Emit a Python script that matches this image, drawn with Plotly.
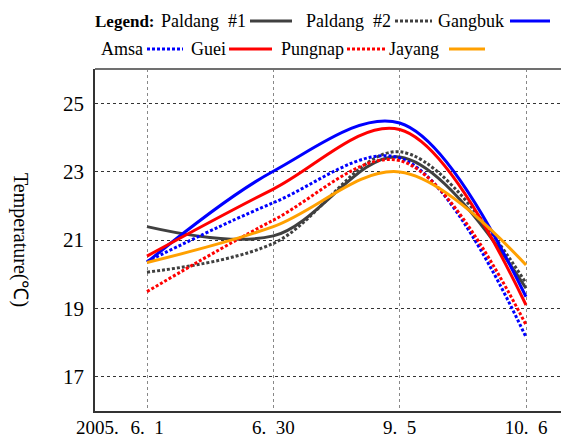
import plotly.graph_objects as go

# ---------------- data ----------------
x_pos = [0, 1, 2, 3]
x_labels = ["6.\u00a0\u00a01", "6.\u00a0\u00a030", "9.\u00a0\u00a05", "10.\u00a0\u00a06"]
year_label = "2005."
y_ticks = [17, 19, 21, 23, 25]

paldang1 = [21.39, 21.12, 23.43, 19.59]
paldang2 = [20.06, 20.90, 23.58, 19.74]
gangbuk = [20.35, 23.01, 24.42, 19.34]
amsa = [20.37, 22.09, 23.40, 18.16]
guei = [20.53, 22.49, 24.23, 19.10]
pungnap = [19.49, 21.58, 23.32, 18.52]
jayang = [20.34, 21.39, 22.99, 20.27]

names = ["Paldang\u00a0\u00a0#1", "Paldang\u00a0\u00a0#2", "Gangbuk", "Amsa", "Guei", "Pungnap", "Jayang"]
values = [paldang1, paldang2, gangbuk, amsa, guei, pungnap, jayang]
colors = ["#404040", "#404040", "#0000FF", "#0000FF", "#FF0000", "#FF0000", "#FFA000"]
dashes = ["solid", "3px,2px", "solid", "3px,2px", "solid", "3px,2px", "solid"]

FONT = "Liberation Serif"
W, H = 561, 439
ML, MR, MT, MB = 95, 0, 69, 28
PW, PH = W - ML - MR, H - MT - MB


def px_x(px):
    return (px - ML) / PW


def px_y(py):
    return (H - MB - py) / PH


fig = go.Figure()
for name, vals, col, dsh in zip(names, values, colors, dashes):
    fig.add_trace(go.Scatter(
        x=x_pos, y=vals, mode="lines", name=name, showlegend=False,
        line=dict(color=col, width=3, dash=dsh, shape="spline", smoothing=1.0),
    ))

# ---------------- custom legend (text then line) ----------------
legend_items = [
    # name index, text right px, line x0, line x1, row y px
    (0, 248, 250, 292, 21),
    (1, 393, 395, 432, 21),
    (2, 506, 510, 550, 21),
    (3, 145, 147, 183, 49),
    (4, 228, 229, 272, 49),
    (5, 346, 347, 387, 49),
    (6, 441, 449, 485, 49),
]
annotations = []
shapes = []
annotations.append(dict(
    text="<b>Legend:</b>", xref="paper", yref="paper", x=px_x(93), y=px_y(21),
    xanchor="left", yanchor="middle", showarrow=False,
    font=dict(family=FONT, size=17, color="#000"),
))
for idx, tr, lx0, lx1, ry in legend_items:
    annotations.append(dict(
        text=names[idx], xref="paper", yref="paper", x=px_x(tr), y=px_y(ry),
        xanchor="right", yanchor="middle", showarrow=False,
        font=dict(family=FONT, size=18, color="#000"),
    ))
    shapes.append(dict(
        type="line", xref="paper", yref="paper",
        x0=px_x(lx0), x1=px_x(lx1), y0=px_y(ry), y1=px_y(ry),
        line=dict(color=colors[idx], width=3, dash=dashes[idx]),
    ))

# top frame line
shapes.append(dict(type="line", xref="paper", yref="paper", x0=0, x1=1, y0=1, y1=1,
                   line=dict(color="#707070", width=2)))

# y-axis title (rotated clockwise)
annotations.append(dict(
    text="Temperature(\u2103)", xref="paper", yref="paper", x=px_x(21), y=0.5,
    xanchor="center", yanchor="middle", textangle=90, showarrow=False,
    font=dict(family=FONT, size=20, color="#000"),
))
# year prefix for first date
annotations.append(dict(
    text=year_label, xref="paper", yref="paper", x=px_x(121), y=px_y(427),
    xanchor="right", yanchor="middle", showarrow=False,
    font=dict(family=FONT, size=19, color="#000"),
))

fig.update_layout(
    template="none",
    width=W, height=H, autosize=False,
    margin=dict(l=ML, r=MR, t=MT, b=MB, pad=0),
    paper_bgcolor="white", plot_bgcolor="white",
    font=dict(family=FONT, size=20, color="#000"),
    annotations=annotations, shapes=shapes,
    xaxis=dict(
        range=[-0.4116, 3.277], tickvals=x_pos, ticktext=x_labels,
        showgrid=True, gridcolor="#888888", griddash="dot", gridwidth=1,
        showline=True, linecolor="#333333", linewidth=1.5,
        ticks="", ticklabelstandoff=-2, zeroline=False, automargin=False,
        tickfont=dict(family=FONT, size=19, color="#000"),
    ),
    yaxis=dict(
        range=[16, 26], tickvals=y_ticks,
        showgrid=True, gridcolor="#333333", griddash="dot", gridwidth=1,
        showline=True, linecolor="#333333", linewidth=1.5,
        ticks="", ticklabelstandoff=5, zeroline=False, automargin=False,
        tickfont=dict(family=FONT, size=21, color="#000"),
    ),
)

fig.write_html("out.html")
